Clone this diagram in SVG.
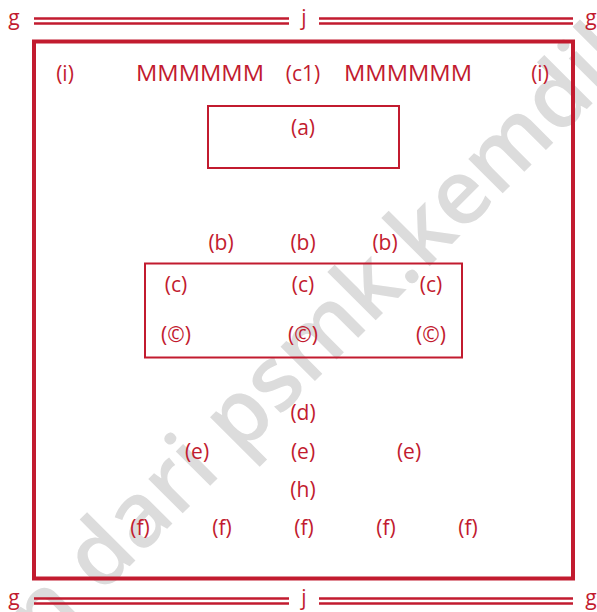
<svg xmlns="http://www.w3.org/2000/svg" width="597" height="612" viewBox="0 0 597 612">
<style>
.t{font-family:"Open Sans","Noto Sans","Liberation Sans",sans-serif;font-size:21px;fill:#c21b2f;text-anchor:middle}
.bx{fill:none;stroke:#c21b2f}
.dl{stroke:#c21b2f;stroke-width:2.6}
.wm{font-family:"Open Sans","Noto Sans","Liberation Sans",sans-serif;font-size:90px;font-weight:600;fill:#dcdcdc}
</style>
<rect width="597" height="612" fill="#ffffff"/>
<text class="wm" transform="translate(44,652) rotate(-45)">n dari psmk.kemdik</text>
<g id="frame">
<line class="dl" x1="34" y1="18.5" x2="289" y2="18.5"/>
<line class="dl" x1="34" y1="23.5" x2="289" y2="23.5"/>
<line class="dl" x1="319" y1="18.5" x2="573" y2="18.5"/>
<line class="dl" x1="319" y1="23.5" x2="573" y2="23.5"/>
<line class="dl" x1="34" y1="598.5" x2="289" y2="598.5"/>
<line class="dl" x1="34" y1="603.5" x2="289" y2="603.5"/>
<line class="dl" x1="319" y1="598.5" x2="573" y2="598.5"/>
<line class="dl" x1="319" y1="603.5" x2="573" y2="603.5"/>
<text class="t" x="14" y="25">g</text>
<text class="t" x="304" y="25">j</text>
<text class="t" x="591" y="25">g</text>
<text class="t" x="14" y="605">g</text>
<text class="t" x="304" y="605">j</text>
<text class="t" x="591" y="605">g</text>
<rect class="bx" x="34" y="41.5" width="539" height="537" stroke-width="4"/>
</g>
<g id="header">
<text class="t" x="65" y="81">(i)</text>
<text class="t" x="200" y="81" textLength="128" lengthAdjust="spacingAndGlyphs">MMMMMM</text>
<text class="t" x="303" y="81">(c1)</text>
<text class="t" x="408" y="81" textLength="128" lengthAdjust="spacingAndGlyphs">MMMMMM</text>
<text class="t" x="540" y="81">(i)</text>
</g>
<g id="node-a">
<rect class="bx" x="208" y="106" width="191" height="62" stroke-width="2"/>
<text class="t" x="303" y="135">(a)</text>
</g>
<g id="labels-b">
<text class="t" x="221" y="250">(b)</text>
<text class="t" x="303" y="250">(b)</text>
<text class="t" x="385" y="250">(b)</text>
</g>
<g id="node-c">
<rect class="bx" x="145" y="263.5" width="317" height="94" stroke-width="2"/>
<text class="t" x="176" y="292">(c)</text>
<text class="t" x="303" y="292">(c)</text>
<text class="t" x="431" y="292">(c)</text>
<text class="t" x="176" y="342">(©)</text>
<text class="t" x="303" y="342">(©)</text>
<text class="t" x="431" y="342">(©)</text>
</g>
<g id="lower">
<text class="t" x="303" y="420">(d)</text>
<text class="t" x="197" y="459">(e)</text>
<text class="t" x="303" y="459">(e)</text>
<text class="t" x="409" y="459">(e)</text>
<text class="t" x="303" y="497">(h)</text>
<text class="t" x="140" y="535">(f)</text>
<text class="t" x="222" y="535">(f)</text>
<text class="t" x="304" y="535">(f)</text>
<text class="t" x="386" y="535">(f)</text>
<text class="t" x="468" y="535">(f)</text>
</g>
<g id="connectors"></g>
</svg>
